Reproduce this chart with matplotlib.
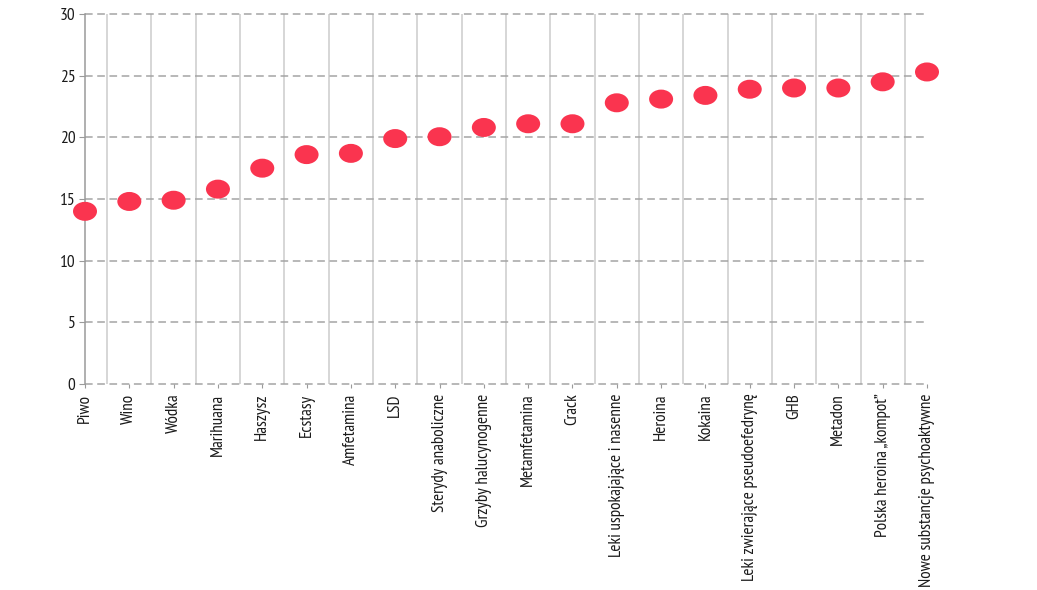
import matplotlib
matplotlib.use("Agg")
import matplotlib.pyplot as plt
import numpy as np
from matplotlib.patches import Ellipse

categories = ["Piwo", "Wino", "Wódka", "Marihuana", "Haszysz", "Ecstasy", "Amfetamina",
              "LSD", "Sterydy anaboliczne", "Grzyby halucynogenne", "Metamfetamina", "Crack",
              "Leki uspokajające i nasenne", "Heroina", "Kokaina",
              "Leki zwierające pseudoefedrynę", "GHB", "Metadon",
              "Polska heroina \u201ekompot\u201d", "Nowe substancje psychoaktywne"]
values = [14.0, 14.8, 14.9, 15.8, 17.5, 18.6, 18.7, 19.9, 20.05, 20.8, 21.1, 21.1,
          22.8, 23.1, 23.4, 23.9, 24.0, 24.0, 24.5, 25.3]
yticks = [0, 5, 10, 15, 20, 25, 30]

plt.rcParams['font.family'] = ['PT Sans Narrow', 'DejaVu Sans']

W, H = 1037, 590
fig = plt.figure(figsize=(W / 100, H / 100), dpi=100)
ax = fig.add_axes([85 / W, 1 - 384 / H, (927 - 85) / W, (384 - 14) / H])

n = len(categories)
x = np.arange(n)
ax.set_xlim(0, n - 1)
ax.set_ylim(0, 30)

# vertical separators between categories
for xv in np.arange(n - 1) + 0.5:
    ax.axvline(xv, color='#cccccc', lw=1.1, zorder=1)
# horizontal dashed grid
for yv in yticks:
    ax.axhline(yv, color='#a4a4a4', lw=1.1, ls=(0, (5, 3)), zorder=1, clip_on=False)

# elliptical markers in data coords
px_x = (927 - 85) / (n - 1)
px_y = (384 - 14) / 30
ew = 24 / px_x
eh = 19 / px_y
for xi, v in zip(x, values):
    e = Ellipse((xi, v), ew, eh, facecolor='#FA344F', edgecolor='none', zorder=3, clip_on=False)
    ax.add_patch(e)

for s in ['top', 'right', 'bottom']:
    ax.spines[s].set_visible(False)
ax.spines['left'].set_color('#9a9a9a')
ax.spines['left'].set_linewidth(1.1)

ax.set_yticks(yticks)
ax.set_yticklabels([str(t) for t in yticks], fontsize=12.5, color='#1a1a1a')
ax.tick_params(axis='y', length=4, color='#9a9a9a', pad=3)
ax.set_xticks(x)
ax.set_xticklabels(categories, rotation=90, fontsize=12.3, color='#1a1a1a', va='top', ha='center')
ax.tick_params(axis='x', length=3, color='#9a9a9a', pad=4)

fig.savefig("out.png", dpi=100)
